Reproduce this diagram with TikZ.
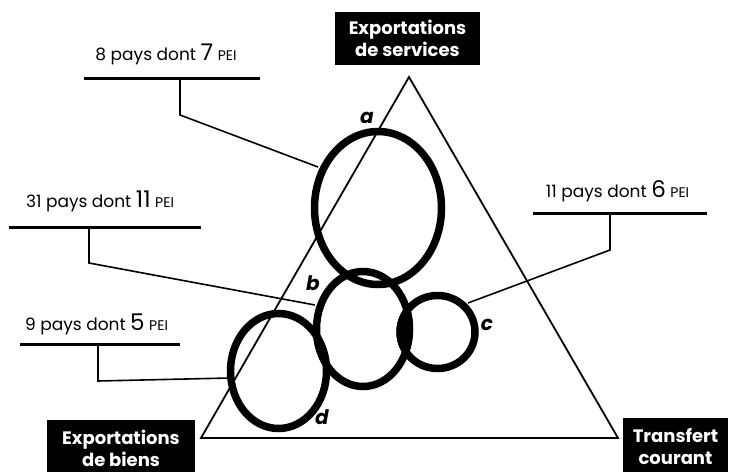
\documentclass[tikz,border=0pt]{standalone}
\usepackage{fontspec}
\setmainfont{Poppins}

% mixed sizes in the country counts
\newcommand{\bignum}[1]{{\fontsize{23}{23}\selectfont #1}}
\newcommand{\pei}{{\fontsize{14}{14}\selectfont PEI}}

\tikzset{
  ring/.style={line width=7.5pt},
  bar/.style={line width=3pt},
  leader/.style={line width=1.6pt},
  side/.style={line width=1.8pt},
  pays/.style={font=\fontsize{17}{17}\selectfont, anchor=base, inner sep=0pt},
  corner/.style={fill=black, text=white, inner sep=0pt, align=center,
                 font=\bfseries\fontsize{18}{22}\selectfont},
  letter/.style={font=\bfseries\itshape\fontsize{20}{20}\selectfont, inner sep=0pt}
}

\begin{document}
\begin{tikzpicture}[x=1pt,y=-1pt]
\useasboundingbox (0,0) rectangle (730,471);

% triangle
\coordinate (ts) at (409,77);
\coordinate (tb) at (201,438);
\coordinate (tc) at (618,438);
\draw[side] (ts) -- (tb) -- (tc) -- cycle;

% corner boxes
\node[corner, minimum width=145pt, minimum height=53pt] (serv) at (407.5,38.5) {Exportations\\de services};
\node[corner, minimum width=148pt, minimum height=56pt] (biens) at (121,448) {Exportations\\de biens};
\node[corner, minimum width=105pt, minimum height=57pt] (trans) at (675.5,446.5) {Transfert\\courant};

% labels and their leaders
\node[pays] (l8) at (166,60) {8 pays dont \bignum{7} \pei};
\node[pays] (l31) at (100,207) {31 pays dont \bignum{11} \pei};
\node[pays] (l9) at (96.5,330) {9 pays dont \bignum{5} \pei};
\node[pays] (l11) at (617.5,197) {11 pays dont \bignum{6} \pei};

\coordinate (ka) at (318,167);
\coordinate (kb) at (315,305);
\coordinate (kd) at (230,378);
\coordinate (kc) at (468,303);

\draw[bar] (84,78) -- (260,78);
\draw[bar] (9,227) -- (201,227);
\draw[bar] (20,344) -- (180,344);
\draw[bar] (533,213) -- (707,213);

\draw[leader] (180,78) -- (180,115) -- (ka);
\draw[leader] (89,227) -- (89,263) -- (kb);
\draw[leader] (98,344) -- (98,381) -- (kd);
\draw[leader] (610,213) -- (610,250) -- (kc);

% filled overlaps
\begin{scope}
\clip (363,329) ellipse [x radius=50pt, y radius=61pt];
\fill (437.5,332) ellipse [x radius=41pt, y radius=40pt];
\fill (278.5,371) ellipse [x radius=51.5pt, y radius=61pt];
\end{scope}

% the four groups
\draw[ring] (378,208) ellipse [x radius=63.5pt, y radius=76.5pt];
\draw[ring] (363,329) ellipse [x radius=46.5pt, y radius=57.5pt];
\draw[ring] (437.5,332) ellipse [x radius=37.5pt, y radius=36.5pt];
\draw[ring] (278.5,371) ellipse [x radius=48pt, y radius=57.5pt];

\node[letter] (a) at (367,118) {a};
\node[letter] (b) at (313,283) {b};
\node[letter] (c) at (487,325) {c};
\node[letter] (d) at (322,417) {d};
\end{tikzpicture}
\end{document}
